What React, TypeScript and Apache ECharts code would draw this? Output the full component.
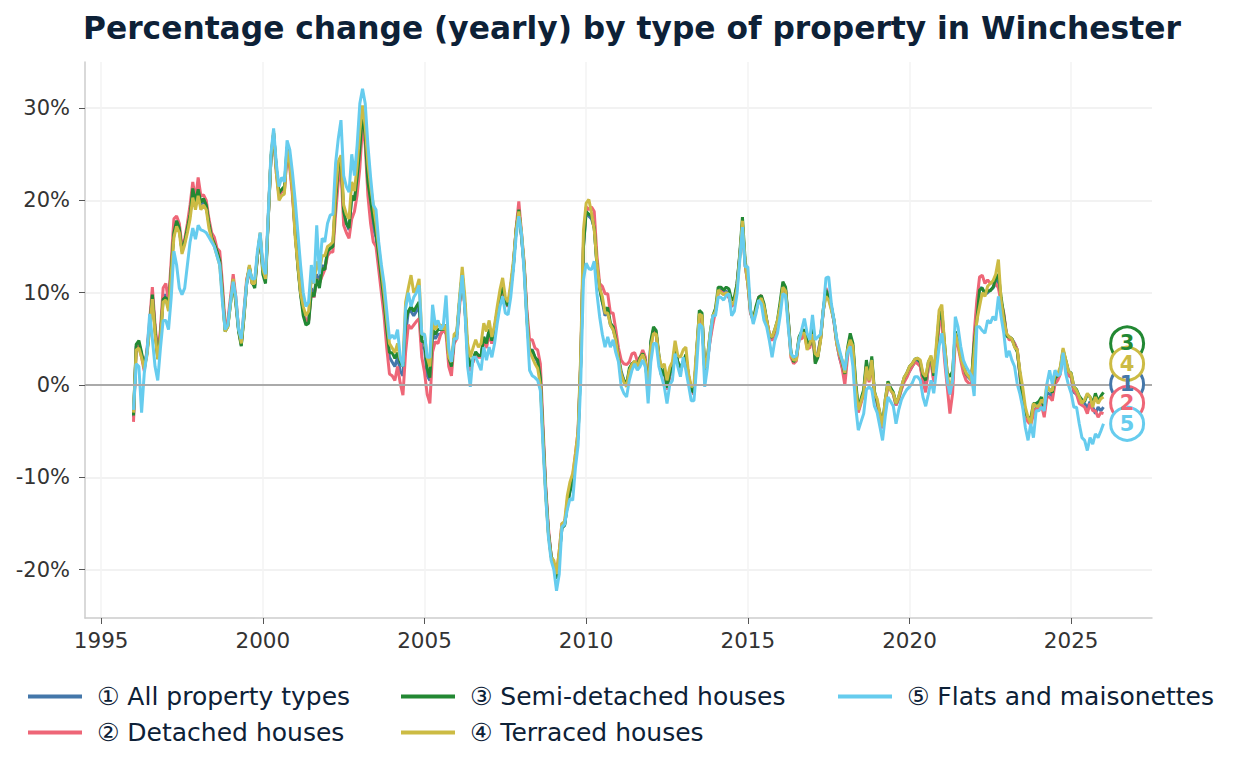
import { useEffect, useRef } from 'react';
import * as echarts from 'echarts';

// monthly values, Jan 1996 .. Jan 2026 (one row per year)
const START_YEAR = 1996;

const allTypes = [
  -3.5, 4.2, 4.5, 3.3, 1.8, 3.5, 6.5, 9.8, 6.0, 3.0, 5.5, 9.5,
  9.8, 8.5, 12.5, 16.5, 17.8, 17.0, 14.5, 15.5, 17.0, 18.5, 21.0, 19.5,
  21.0, 19.5, 20.0, 19.3, 17.5, 16.2, 15.5, 14.5, 13.5, 10.0, 6.0, 6.5,
  9.0, 11.5, 9.0, 6.0, 4.3, 7.5, 11.0, 12.8, 11.0, 10.8, 14.0, 16.2,
  12.5, 11.5, 18.0, 24.5, 27.3, 23.5, 20.5, 21.0, 21.0, 25.5, 24.0, 21.0,
  16.5, 13.0, 10.0, 8.0, 6.8, 7.0, 10.5, 9.5, 12.0, 11.0, 13.0, 12.5,
  14.5, 14.8, 15.2, 20.0, 23.5, 24.3, 18.5, 17.5, 16.8, 20.5, 20.0, 22.5,
  24.5, 29.0, 27.0, 21.5, 19.0, 17.0, 16.0, 13.5, 11.0, 8.5, 5.5, 3.0,
  2.5, 2.0, 3.0, 1.5, 1.0, 5.5, 8.0, 8.0, 7.5, 8.0, 8.5, 4.0,
  4.0, 1.0, 0.5, 5.5, 5.0, 5.5, 5.5, 6.0, 6.5, 3.0, 2.0, 5.0,
  5.5, 9.0, 12.0, 8.5, 3.5, 2.0, 2.5, 3.5, 3.2, 3.2, 5.2, 4.5,
  6.0, 4.5, 6.0, 8.0, 9.5, 10.5, 9.0, 8.5, 10.5, 13.0, 16.8, 19.0,
  16.0, 12.8, 7.5, 3.8, 3.8, 3.0, 2.5, 0.5, -5.5, -11.5, -16.0, -18.5,
  -19.5, -21.0, -18.5, -15.5, -15.2, -13.0, -11.5, -10.5, -8.0, -5.5, 2.5, 15.0,
  18.8, 18.3, 18.0, 17.0, 13.0, 10.5, 9.0, 7.5, 8.0, 6.5, 6.0, 5.0,
  3.0, 1.5, 0.5, 0.0, 1.5, 2.3, 2.5, 2.0, 2.8, 3.5, 2.5, -0.5,
  4.5, 6.0, 5.5, 3.0, 1.0, 1.5, -0.5, 1.0, 1.5, 4.0, 2.5, 1.5,
  2.5, 3.0, 1.0, -0.5, -1.0, 3.5, 7.5, 7.5, 1.5, 2.5, 5.0, 7.0,
  8.0, 10.0, 10.3, 10.0, 10.2, 9.5, 8.5, 9.0, 11.0, 14.0, 17.5, 13.0,
  11.0, 7.8, 7.0, 8.0, 9.2, 9.5, 8.5, 7.0, 5.5, 5.0, 5.8, 6.8,
  8.5, 10.8, 10.5, 7.0, 3.5, 2.5, 2.8, 5.0, 5.5, 5.8, 4.5, 4.2,
  6.0, 2.8, 3.5, 5.0, 8.0, 10.0, 9.5, 8.3, 6.8, 4.5, 3.0, 2.0,
  0.8, 3.5, 5.2, 4.2, 0.0, -2.8, -1.8, -0.8, 2.2, 0.5, 2.8, -1.0,
  -2.0, -3.3, -4.5, -2.0, 0.0, -0.5, -1.0, -2.2, -1.5, -0.4, 0.5, 1.0,
  1.5, 2.0, 2.5, 2.6, 2.2, 0.5, -0.5, 2.0, 2.8, 0.5, 3.5, 7.0,
  7.5, 4.0, 0.8, -1.0, 0.5, 5.5, 4.5, 3.0, 2.0, 1.0, 0.8, 0.5,
  4.0, 8.5, 10.5, 10.5, 9.8, 10.0, 10.3, 10.5, 11.0, 11.5, 9.0, 7.5,
  5.5, 5.2, 5.0, 4.5, 3.8, 1.0, -2.0, -3.2, -3.8, -4.0, -3.0, -2.5,
  -2.2, -1.8, -3.0, -0.8, -1.0, -1.2, 0.5, 0.8, 1.5, 3.5, 2.5, 1.2,
  0.8, -0.8, -1.0, -1.6, -1.8, -2.0, -2.5, -1.8, -2.4, -3.1, -2.4, -2.8,
  -2.4,
];

const detached = [
  -4.0, 4.0, 4.3, 3.0, 1.5, 3.8, 7.0, 10.6, 6.5, 3.5, 6.0, 10.5,
  11.0, 9.0, 13.5, 18.0, 18.3, 17.5, 15.0, 15.8, 17.5, 19.5, 22.0, 20.0,
  22.5, 20.5, 20.6, 20.0, 18.0, 16.5, 16.0, 14.8, 14.5, 11.0, 6.5, 7.0,
  9.5, 12.0, 9.5, 6.0, 4.5, 8.0, 11.5, 12.5, 11.0, 11.0, 14.0, 16.0,
  12.8, 11.8, 18.0, 24.5, 27.0, 23.0, 20.5, 21.0, 21.0, 25.0, 23.5, 20.5,
  16.5, 13.0, 10.0, 8.0, 7.0, 7.0, 10.0, 9.5, 11.5, 11.0, 11.8, 12.5,
  14.0, 14.4, 14.4, 18.5, 22.0, 23.5, 17.3, 16.5, 15.9, 18.0, 18.8, 20.6,
  23.5, 28.2, 26.0, 20.5, 17.5, 15.5, 15.0, 12.5, 10.0, 7.5, 4.0, 1.2,
  1.0, 0.5, 2.0, 0.2, -1.1, 3.6, 6.5, 6.1, 6.5, 6.9, 7.2, 3.0,
  1.4, -1.0, -2.0, 3.6, 4.7, 4.5, 5.5, 6.0, 5.5, 2.0, 1.0, 4.5,
  5.0, 8.5, 11.5, 8.5, 3.0, 1.5, 2.5, 3.5, 3.0, 3.0, 5.0, 4.0,
  5.5, 4.5, 6.0, 8.0, 9.5, 10.5, 9.0, 8.5, 10.5, 13.0, 17.0, 19.9,
  16.5, 13.2, 8.1, 4.9, 4.9, 4.0, 3.8, 2.3, -4.5, -11.0, -15.5, -18.5,
  -19.8, -20.5, -18.0, -15.0, -15.0, -12.5, -11.0, -10.0, -7.5, -5.0, 3.0, 15.5,
  19.3, 19.0, 19.3, 18.8, 14.0, 11.0, 10.7, 9.9, 9.9, 7.8, 7.8, 6.0,
  4.0, 2.7, 2.3, 2.2, 2.5, 3.4, 3.5, 2.6, 3.0, 3.8, 3.0, -0.3,
  4.0, 6.0, 5.5, 3.0, 1.0, 1.5, -0.5, 1.0, 1.8, 4.0, 2.5, 1.5,
  2.5, 3.0, 1.0, -0.5, -1.0, 3.5, 7.2, 7.3, 1.5, 2.7, 4.8, 6.5,
  8.0, 10.0, 10.2, 9.8, 10.0, 9.5, 8.5, 9.0, 10.8, 14.0, 17.3, 13.0,
  11.0, 7.8, 7.0, 8.2, 9.5, 9.7, 8.5, 7.0, 5.5, 4.8, 5.5, 6.5,
  8.3, 10.5, 10.3, 7.0, 3.0, 2.3, 2.6, 5.0, 5.0, 5.5, 4.0, 4.0,
  5.5, 2.5, 3.2, 5.0, 8.0, 10.5, 9.8, 8.5, 6.8, 4.5, 3.1, 1.8,
  0.0, 3.0, 5.0, 4.0, -0.5, -3.0, -2.0, -1.0, 2.0, 0.3, 2.5, -1.2,
  -2.0, -3.3, -4.7, -2.0, 0.0, -0.5, -1.0, -2.2, -1.5, -0.5, 0.3, 0.8,
  1.5, 2.0, 2.5, 2.3, 2.0, 0.3, -0.8, 2.0, 2.5, 0.3, 3.3, 6.5,
  7.0, 2.7, -0.2, -3.1, -0.9, 4.9, 4.2, 2.7, 1.3, 0.5, 0.2, 0.0,
  5.5, 9.2, 11.7, 11.9, 11.0, 11.4, 11.0, 11.2, 11.0, 10.5, 9.0, 7.8,
  5.5, 4.9, 4.9, 4.5, 3.8, 1.0, -2.2, -3.5, -4.0, -4.3, -3.2, -2.6,
  -2.5, -2.2, -3.5, -1.3, -1.3, -1.7, 0.1, 0.5, 1.2, 3.5, 2.3, 1.0,
  0.9, -0.6, -1.0, -2.0, -2.2, -2.4, -3.1, -2.0, -2.8, -2.8, -3.5, -3.0,
  -3.1,
];

const semiDetached = [
  -3.3, 4.4, 4.8, 3.5, 2.0, 3.5, 6.3, 9.8, 6.0, 2.8, 5.3, 9.3,
  9.5, 8.3, 12.5, 16.5, 17.8, 17.0, 14.5, 15.5, 17.0, 18.5, 21.3, 19.8,
  21.2, 19.8, 20.2, 19.5, 17.5, 16.0, 15.3, 14.5, 13.5, 10.0, 5.8, 6.3,
  8.8, 11.3, 8.8, 5.8, 4.2, 7.3, 11.0, 12.8, 11.2, 10.5, 14.0, 16.3,
  12.0, 11.0, 17.8, 24.5, 27.3, 23.5, 20.8, 21.2, 21.5, 25.8, 24.3, 21.5,
  16.5, 12.8, 9.8, 7.5, 6.5, 6.7, 10.0, 9.6, 11.5, 10.5, 12.6, 12.5,
  14.5, 14.8, 15.0, 20.0, 23.5, 24.5, 18.8, 17.5, 17.0, 20.5, 20.0, 22.5,
  25.5, 29.5, 27.0, 22.0, 20.0, 18.0, 16.5, 14.0, 11.5, 9.0, 6.0, 3.5,
  3.5, 2.9, 3.5, 2.5, 2.0, 7.0, 8.0, 8.5, 8.0, 8.5, 9.0, 4.7,
  4.7, 1.8, 0.8, 6.0, 5.5, 6.0, 6.0, 6.0, 6.5, 3.0, 2.0, 5.0,
  5.5, 9.0, 12.0, 8.5, 3.5, 2.0, 2.8, 3.6, 3.2, 3.2, 5.2, 4.5,
  6.0, 4.8, 6.2, 8.0, 9.6, 10.8, 9.0, 8.6, 10.5, 13.0, 16.8, 19.0,
  16.2, 12.8, 7.3, 3.4, 3.8, 3.0, 2.7, 0.8, -5.5, -11.5, -16.0, -18.5,
  -19.5, -21.0, -18.5, -15.5, -15.2, -13.0, -11.5, -10.5, -8.0, -5.5, 2.5, 15.0,
  18.8, 18.5, 18.3, 17.0, 13.0, 10.5, 9.0, 8.0, 8.4, 6.7, 6.3, 5.0,
  3.0, 1.2, 0.5, 0.0, 1.8, 2.3, 2.5, 2.2, 3.0, 3.4, 2.6, -0.8,
  4.8, 6.3, 5.9, 3.2, 0.9, 1.8, -0.3, 1.2, 1.8, 4.3, 2.5, 1.9,
  2.5, 3.3, 0.8, -0.5, -0.8, 3.5, 8.1, 7.8, 1.5, 3.0, 5.6, 7.5,
  8.3, 10.6, 10.6, 10.3, 10.6, 10.4, 9.2, 9.5, 11.0, 14.2, 18.2, 13.5,
  11.5, 8.1, 7.0, 8.5, 9.5, 9.7, 8.8, 7.0, 5.2, 5.2, 6.0, 7.0,
  9.0, 11.2, 10.6, 7.2, 3.5, 2.5, 3.0, 5.2, 5.8, 6.0, 4.8, 4.3,
  6.5, 2.3, 3.0, 5.0, 8.2, 10.3, 9.5, 8.5, 7.0, 4.8, 3.5, 2.5,
  1.2, 4.0, 5.6, 4.5, 0.5, -2.5, -1.5, -0.5, 2.7, 0.8, 3.1, -0.7,
  -1.8, -3.0, -4.3, -1.6, 0.4, -0.3, -0.8, -2.0, -1.3, -0.2, 0.8, 1.3,
  2.0, 2.3, 2.8, 2.9, 2.5, 1.0, 0.5, 2.5, 3.0, 1.0, 4.0, 7.5,
  8.0, 4.5, 1.3, 0.9, 1.5, 5.8, 4.8, 3.2, 2.2, 1.2, 1.0, 0.6,
  4.5, 7.0, 10.3, 10.5, 9.9, 10.2, 10.2, 10.6, 11.5, 12.0, 9.5, 7.5,
  5.3, 5.2, 5.0, 4.2, 3.6, 1.2, -1.5, -3.0, -3.5, -3.6, -2.0, -2.0,
  -1.8, -1.3, -2.5, -0.5, -0.5, -0.8, 0.8, 1.0, 1.8, 3.8, 2.7, 1.5,
  1.3, -0.2, -0.5, -1.2, -1.6, -1.8, -1.0, -1.3, -2.0, -0.9, -1.8, -1.2,
  -0.8,
];

const terraced = [
  -3.0, 3.8, 4.0, 3.0, 1.8, 3.2, 6.0, 9.3, 5.5, 2.8, 5.0, 9.0,
  9.2, 8.0, 12.0, 16.0, 17.2, 16.5, 14.2, 15.2, 16.5, 18.0, 20.3, 19.0,
  20.5, 19.0, 19.5, 19.0, 17.0, 15.8, 15.0, 14.0, 13.0, 9.5, 5.8, 6.3,
  8.8, 11.5, 9.0, 6.2, 4.5, 7.5, 11.2, 13.0, 11.0, 11.0, 14.2, 16.5,
  12.5, 11.5, 18.0, 24.8, 27.5, 23.0, 20.0, 20.5, 20.7, 25.5, 24.0, 21.0,
  16.0, 13.0, 10.0, 8.5, 7.5, 8.0, 11.5, 11.0, 13.4, 12.3, 14.0, 14.0,
  15.0, 15.2, 15.5, 21.0, 24.2, 24.9, 19.5, 18.5, 18.0, 22.0, 21.0, 23.8,
  27.5, 30.3, 28.0, 24.0, 21.5, 19.5, 17.5, 15.0, 12.5, 10.0, 7.0, 4.5,
  4.0, 3.5, 4.5, 2.8, 2.5, 9.0, 10.5, 11.9, 10.0, 10.5, 11.5, 5.5,
  5.5, 3.0, 2.0, 7.0, 6.0, 6.5, 6.5, 6.0, 6.5, 3.0, 2.5, 5.5,
  5.8, 9.5, 12.8, 9.5, 4.5, 3.0, 4.0, 4.9, 4.1, 4.5, 6.7, 5.8,
  7.0, 5.2, 6.5, 8.5, 10.3, 11.6, 9.5, 9.0, 11.0, 13.5, 16.8, 18.8,
  16.5, 13.0, 7.0, 3.6, 3.0, 2.3, 1.8, 0.0, -6.0, -12.0, -16.3, -18.7,
  -19.0, -20.5, -18.0, -15.0, -14.8, -12.0, -10.5, -9.6, -7.5, -5.0, 3.5, 16.8,
  19.7, 20.1, 18.6, 16.8, 13.2, 10.5, 9.6, 7.8, 7.8, 6.5, 6.0, 4.8,
  2.8, 1.2, 0.3, -0.2, 1.5, 2.2, 2.6, 2.0, 2.8, 3.3, 2.5, -0.8,
  4.2, 5.6, 5.5, 3.2, 1.9, 2.3, 0.5, 1.9, 2.5, 4.8, 3.2, 3.0,
  3.8, 4.1, 1.2, -0.2, 0.0, 4.0, 7.7, 7.5, 1.8, 3.0, 5.5, 7.5,
  8.0, 10.3, 10.0, 9.8, 10.0, 9.8, 8.7, 9.0, 10.5, 13.8, 17.8, 13.2,
  11.0, 8.0, 7.0, 8.0, 9.0, 9.4, 8.5, 7.0, 5.5, 5.2, 6.0, 7.0,
  8.5, 10.6, 10.2, 6.8, 3.2, 2.7, 2.7, 5.0, 5.6, 5.6, 3.8, 4.5,
  5.5, 3.4, 3.1, 4.8, 8.1, 9.6, 9.2, 8.1, 7.0, 4.5, 3.4, 2.7,
  1.3, 3.8, 4.9, 4.2, -0.2, -2.7, -1.8, -0.9, 2.0, 0.5, 2.7, -0.9,
  -1.5, -3.1, -4.5, -1.6, 0.2, -0.6, -0.9, -2.0, -1.3, -0.2, 0.8, 1.3,
  2.0, 2.3, 2.8, 2.9, 2.7, 1.3, 0.9, 2.5, 3.2, 1.3, 4.5, 8.1,
  8.7, 4.5, 1.3, -0.5, 0.9, 5.6, 4.5, 3.0, 2.0, 1.3, 0.9, 0.5,
  3.5, 7.0, 8.5, 10.0, 9.6, 10.7, 11.0, 11.3, 12.0, 13.6, 9.2, 7.0,
  5.6, 5.2, 5.0, 4.1, 3.8, 1.5, -0.2, -2.4, -3.5, -4.2, -2.0, -2.3,
  -2.3, -1.6, -2.0, 0.1, -0.6, -0.6, 1.2, 1.2, 2.0, 4.0, 2.7, 1.5,
  1.2, -0.2, -0.6, -1.3, -2.0, -1.6, -0.9, -1.3, -2.4, -1.3, -2.0, -1.5,
  -1.3,
];

const flats = [
  -2.7, 2.3, 2.0, -3.0, 1.3, 3.5, 7.7, 5.0, 2.0, 0.5, 4.0, 7.0,
  7.0, 6.0, 9.5, 14.5, 13.0, 10.5, 9.8, 10.5, 13.0, 15.5, 17.0, 15.8,
  17.3, 16.8, 16.7, 16.5, 16.0, 15.5, 15.0, 14.0, 13.0, 9.0, 6.0, 6.5,
  9.0, 11.2, 9.5, 6.0, 5.0, 8.0, 11.0, 12.5, 11.5, 11.5, 14.5, 16.5,
  13.0, 12.0, 18.5, 25.0, 27.8, 24.0, 21.5, 22.5, 22.0, 26.5, 25.5, 23.0,
  20.0, 16.5, 13.0, 10.0, 8.5, 9.0, 13.0, 11.0, 17.3, 12.0, 15.9, 15.5,
  17.5, 18.4, 18.5, 24.0, 26.7, 28.7, 22.7, 21.5, 20.9, 25.0, 22.7, 26.0,
  30.5, 32.1, 30.5, 26.0, 22.5, 19.5, 19.0, 15.5, 13.0, 11.0, 8.0, 5.0,
  5.4, 5.0, 6.0, 3.0, 2.0, 8.3, 10.0, 8.5, 9.5, 10.0, 10.8, 5.5,
  5.5, 3.0, 3.0, 8.7, 6.5, 7.0, 6.0, 6.5, 9.7, 4.0, 2.5, 5.0,
  5.0, 9.0, 11.9, 8.0, 2.0, -0.2, 3.0, 3.0, 2.3, 1.6, 4.1, 2.7,
  4.1, 3.0, 4.5, 6.7, 8.5, 9.6, 7.8, 7.6, 9.5, 12.5, 16.1, 18.3,
  16.4, 12.1, 6.7, 1.6, 1.0, 0.8, 0.5, -0.6, -6.7, -12.2, -16.5, -19.0,
  -20.0, -22.3, -20.5, -15.4, -15.1, -13.5, -12.3, -12.5, -9.0, -6.5, 0.5, 11.4,
  13.2, 12.6, 12.5, 13.4, 9.9, 7.4, 5.5, 4.1, 5.2, 4.1, 4.9, 3.5,
  2.5, -0.2, -0.9, -1.3, 0.5, 1.6, 2.3, 1.6, 2.0, 2.7, 1.9, -2.0,
  2.5, 4.5, 4.5, 2.0, 0.9, -0.2, -2.0, 0.0, 0.5, 3.4, 2.0, 0.9,
  3.0, 1.6, 0.0, -1.7, -1.7, 2.0, 6.6, 6.3, -0.2, 1.9, 5.2, 7.5,
  7.5, 9.5, 9.5, 9.2, 9.7, 9.9, 7.5, 8.0, 9.9, 13.5, 17.1, 12.8,
  12.8, 8.1, 6.6, 7.7, 9.2, 8.8, 7.0, 6.3, 4.8, 3.0, 4.8, 5.6,
  7.5, 9.9, 9.7, 6.3, 3.4, 3.0, 3.2, 4.8, 6.0, 7.2, 5.6, 4.9,
  7.6, 4.9, 5.2, 5.5, 8.1, 11.6, 11.7, 8.8, 7.0, 5.0, 3.8, 2.7,
  1.6, 3.5, 4.2, 2.0, -2.3, -4.9, -4.0, -3.1, -0.5, -0.2, -0.5, -2.3,
  -3.0, -4.5, -6.0, -3.4, -1.3, -1.8, -2.3, -4.2, -2.7, -1.6, -1.0, -0.5,
  -0.2, 0.2, 0.9, 0.9, 0.5, -1.3, -2.3, -1.0, 0.5, -0.9, 1.6, 4.2,
  5.6, 3.4, 0.5, -1.0, 0.5, 7.4, 6.3, 4.2, 2.7, 2.0, 1.5, 1.0,
  -1.2, 6.3, 6.3, 5.9, 5.6, 7.0, 6.7, 7.4, 7.0, 9.6, 7.4, 5.6,
  3.0, 3.7, 2.7, 2.0, 0.1, -1.0, -2.4, -4.6, -6.0, -4.2, -5.7, -2.8,
  -2.8, -2.4, -2.8, 0.1, 1.6, 0.1, 1.6, 1.0, 1.2, 3.5, 1.2, 0.0,
  -0.9, -2.4, -2.4, -4.2, -5.7, -6.0, -7.1, -5.7, -6.4, -5.3, -5.7, -5.0,
  -4.2,
];

const seriesNames = [
  '① All property types',
  '② Detached houses',
  '③ Semi-detached houses',
  '④ Terraced houses',
  '⑤ Flats and maisonettes',
];
const seriesValues = [allTypes, detached, semiDetached, terraced, flats];
const colors = ['#4477AA', '#EE6677', '#228833', '#CCBB44', '#66CCEE'];

// end badges: number, and the y value where each badge sits (spread apart)
const badgeText = ['1', '2', '3', '4', '5'];
const badgeValue = [0.1, -1.95, 4.5, 2.3, -4.2];
const badgeYear = 2026.73;

const yearTicks = [1995, 2000, 2005, 2010, 2015, 2020, 2025];
const pctTicks = [-20, -10, 0, 10, 20, 30];

const FONT = 'DejaVu Sans';
const TEXT = '#0d2137';

export default function App() {
  const chartRef = useRef<HTMLDivElement>(null);

  useEffect(() => {
    document.body.style.margin = '0';
    if (!chartRef.current) return;
    const chart = echarts.init(chartRef.current, null, { renderer: 'svg' });

    const series = seriesValues.map((vals, k) => ({
      name: seriesNames[k],
      type: 'line',
      data: vals.map((v, i) => [START_YEAR + i / 12, v]),
      showSymbol: false,
      symbol: 'none',
      lineStyle: { width: 3, color: colors[k] },
      itemStyle: { color: colors[k] },
      emphasis: { disabled: true },
      markLine:
        k === 0
          ? {
              silent: true,
              symbol: 'none',
              label: { show: false },
              lineStyle: { color: '#aaaaaa', width: 2, type: 'solid' },
              data: [{ yAxis: 0 }],
            }
          : undefined,
      markPoint: {
        silent: true,
        symbol: 'circle',
        symbolSize: 33,
        itemStyle: { color: '#ffffff', borderColor: colors[k], borderWidth: 3 },
        label: {
          show: true,
          formatter: badgeText[k],
          color: colors[k],
          fontSize: 21,
          lineHeight: 17,
          fontWeight: 'bold',
          fontFamily: FONT,
        },
        data: [{ coord: [badgeYear, badgeValue[k]] }],
      },
    }));

    const legendBase = {
      orient: 'vertical',
      top: 679,
      icon: 'rect',
      itemWidth: 54,
      itemHeight: 4,
      itemGap: 11,
      selectedMode: false,
      textStyle: {
        fontSize: 25,
        color: TEXT,
        fontFamily: FONT,
        padding: [0, 0, 0, 10],
      },
    };

    chart.setOption({
      animation: false,
      color: colors,
      title: {
        text: 'Percentage change (yearly) by type of property in Winchester',
        left: 78,
        top: 7,
        textStyle: {
          fontSize: 31.3,
          fontWeight: 'bold',
          color: TEXT,
          fontFamily: FONT,
        },
      },
      legend: [
        { ...legendBase, left: 23, data: [seriesNames[0], seriesNames[1]] },
        { ...legendBase, left: 396, data: [seriesNames[2], seriesNames[3]] },
        { ...legendBase, left: 833, data: [seriesNames[4]] },
      ],
      grid: { left: 85, right: 84, top: 62, bottom: 152 },
      xAxis: {
        type: 'value',
        min: 1994.5,
        max: 2027.5,
        axisLine: { show: true, onZero: false, lineStyle: { color: '#cccccc', width: 1.5 } },
        axisTick: {
          show: true,
          customValues: yearTicks,
          length: 6,
          lineStyle: { color: '#555555' },
        },
        axisLabel: {
          customValues: yearTicks,
          formatter: (v: number) => String(v),
          fontSize: 21.5,
          color: '#333333',
          fontFamily: FONT,
          margin: 11,
        },
        splitLine: { show: true, lineStyle: { color: '#f3f3f3', width: 1.5 } },
      },
      yAxis: {
        type: 'value',
        min: -25.25,
        max: 35.0,
        axisLine: { show: true, lineStyle: { color: '#cccccc', width: 1.5 } },
        axisTick: {
          show: true,
          customValues: pctTicks,
          length: 6,
          lineStyle: { color: '#555555' },
        },
        axisLabel: {
          customValues: pctTicks,
          formatter: (v: number) => `${v}%`,
          fontSize: 21,
          color: '#333333',
          fontFamily: FONT,
          margin: 15,
        },
        splitLine: { show: true, lineStyle: { color: '#eeeeee', width: 1.5 } },
      },
      series,
    });

    return () => chart.dispose();
  }, []);

  return (
    <div
      ref={chartRef}
      style={{ position: 'fixed', left: 0, top: 0, width: 1236, height: 770, background: '#fff' }}
    />
  );
}
